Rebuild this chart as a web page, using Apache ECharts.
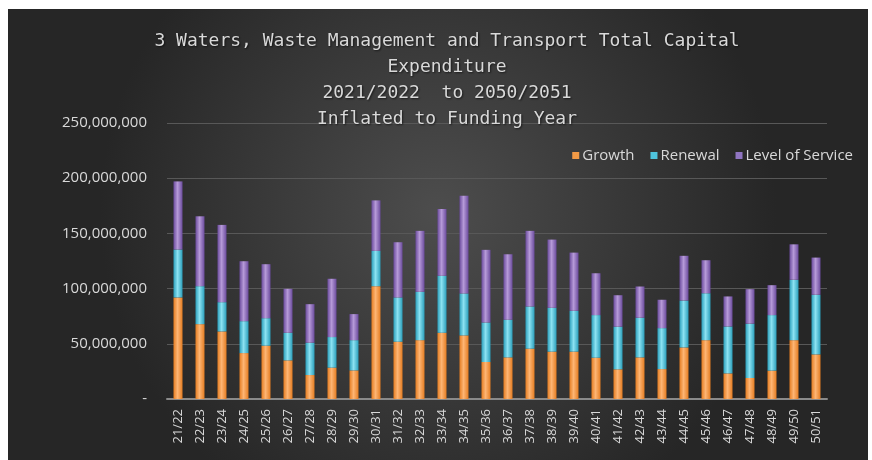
<!DOCTYPE html>
<html>
<head>
<meta charset="utf-8">
<script src="https://cdn.jsdelivr.net/npm/echarts@6/dist/echarts.min.js"></script>
<style>
  html, body { margin: 0; padding: 0; background: #fff; }
  #chart { position: absolute; left: 8px; top: 9px; width: 860px; height: 451px; }
</style>
</head>
<body>
<div id="chart"></div>
<script>
// financial years
const years = ['21/22', '22/23', '23/24', '24/25', '25/26', '26/27', '27/28', '28/29', '29/30', '30/31',
  '31/32', '32/33', '33/34', '34/35', '35/36', '36/37', '37/38', '38/39', '39/40', '40/41',
  '41/42', '42/43', '43/44', '44/45', '45/46', '46/47', '47/48', '48/49', '49/50', '50/51']

// values in millions
const growth = [92.0, 67.8, 61.2, 41.6, 48.3, 35.0, 21.7, 28.4, 25.9, 102.2,
  51.9, 53.3, 60.0, 57.6, 33.5, 37.7, 45.6, 42.9, 42.9, 37.4,
  26.9, 37.7, 27.1, 46.7, 53.3, 23.2, 19.0, 25.7, 53.3, 40.4]
const renewal = [43.4, 34.4, 26.5, 28.9, 24.9, 25.0, 29.3, 27.7, 27.4, 32.0,
  40.1, 43.8, 51.6, 38.0, 35.8, 34.1, 38.2, 39.7, 37.0, 38.6,
  38.6, 35.9, 37.1, 42.5, 42.5, 42.5, 49.2, 50.3, 54.7, 54.0]
const levelOfService = [61.7, 63.3, 70.0, 54.3, 48.9, 39.8, 34.9, 52.8, 23.6, 45.7,
  50.0, 55.2, 60.5, 88.6, 65.8, 59.3, 68.5, 61.8, 52.7, 37.9,
  28.5, 28.3, 25.7, 40.5, 29.9, 27.2, 31.3, 27.1, 32.1, 33.7]

const titleLines = [
  '3 Waters, Waste Management and Transport Total Capital',
  'Expenditure',
  '2021/2022  to 2050/2051',
  'Inflated to Funding Year'
]

const toDollars = arr => arr.map(v => Math.round(v * 1e6))

// horizontal shading like the original bars
function shade(edge, mid) {
  return new echarts.graphic.LinearGradient(0, 0, 1, 0, [
    { offset: 0, color: edge },
    { offset: 0.45, color: mid },
    { offset: 1, color: edge }
  ])
}

const chart = echarts.init(document.getElementById('chart'))

const option = {
  backgroundColor: new echarts.graphic.RadialGradient(0.5, 0.45, 0.75, [
    { offset: 0, color: '#4d4d4d' },
    { offset: 1, color: '#262626' }
  ]),
  animation: false,
  textStyle: { fontFamily: '"Open Sans", sans-serif' },
  title: {
    text: titleLines.join('\n'),
    left: 434,
    textAlign: 'center',
    top: 14,
    textStyle: {
      color: '#d9d9d9',
      fontSize: 18,
      fontWeight: 'normal',
      lineHeight: 26,
      // spaced-out look of the original title
      fontFamily: '"DejaVu Sans Mono", monospace',
      textShadowColor: 'rgba(0,0,0,0.6)',
      textShadowBlur: 2,
      textShadowOffsetX: 1,
      textShadowOffsetY: 1
    }
  },
  legend: {
    right: 10,
    top: 134,
    itemWidth: 7,
    itemHeight: 7,
    itemGap: 16,
    icon: 'rect',
    textStyle: { color: '#d9d9d9', fontSize: 15, padding: [0, 0, 0, -2] },
    // legend icons take the flat colours
    data: [
      { name: 'Growth', itemStyle: { color: '#f29a46' } },
      { name: 'Renewal', itemStyle: { color: '#4ec3dc' } },
      { name: 'Level of Service', itemStyle: { color: '#8f74c0' } }
    ]
  },
  grid: {
    left: 159,
    right: 41,
    top: 114,
    bottom: 61
  },
  xAxis: {
    type: 'category',
    data: years,
    axisLine: { lineStyle: { color: '#8a8a8a', width: 2 } },
    axisTick: { show: false },
    axisLabel: {
      rotate: 90,
      interval: 0,
      color: '#d9d9d9',
      fontSize: 13,
      margin: 10
    }
  },
  yAxis: {
    type: 'value',
    min: 0,
    max: 250000000,
    interval: 50000000,
    axisLine: { show: false },
    axisTick: { show: false },
    splitLine: { lineStyle: { color: '#585858', width: 1 } },
    axisLabel: {
      color: '#d9d9d9',
      fontSize: 15,
      margin: 20,
      formatter: v => v === 0 ? '-' : v.toLocaleString('en-US')
    }
  },
  series: [
    {
      name: 'Growth',
      type: 'bar',
      stack: 'total',
      barWidth: 9,
      data: toDollars(growth),
      itemStyle: { color: shade('#e57d22', '#fdb574') }
    },
    {
      name: 'Renewal',
      type: 'bar',
      stack: 'total',
      barWidth: 9,
      data: toDollars(renewal),
      itemStyle: { color: shade('#2b9fbb', '#8ce2f2') }
    },
    {
      name: 'Level of Service',
      type: 'bar',
      stack: 'total',
      barWidth: 9,
      data: toDollars(levelOfService),
      itemStyle: { color: shade('#6b4b9d', '#b69ad8') }
    }
  ]
}

chart.setOption(option)
</script>
</body>
</html>
